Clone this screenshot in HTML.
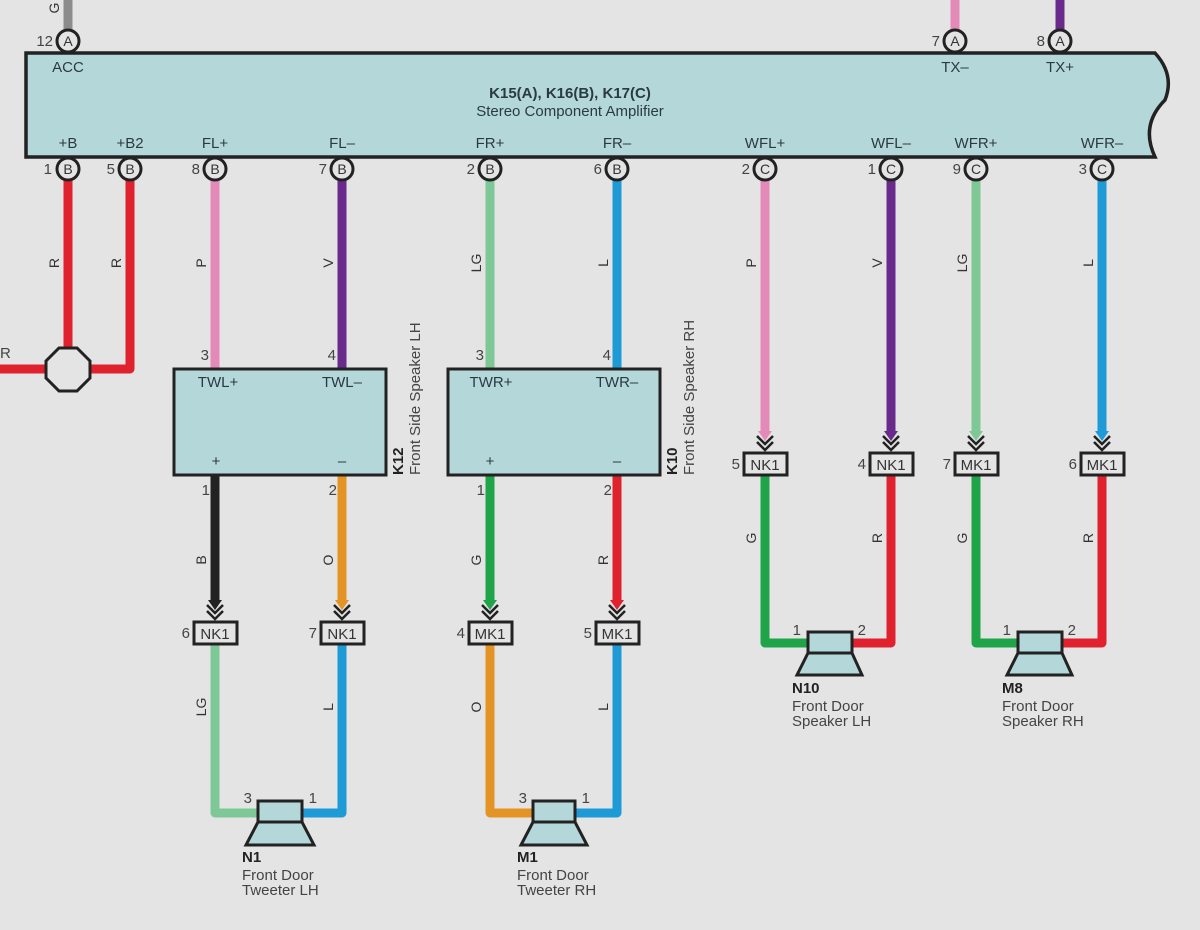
<!DOCTYPE html>
<html><head><meta charset="utf-8"><style>
html,body{margin:0;padding:0;background:#e4e4e4;}
svg{display:block;font-family:"Liberation Sans",sans-serif;}
</style></head><body>
<svg width="1200" height="930" viewBox="0 0 1200 930" xmlns="http://www.w3.org/2000/svg">
<rect width="1200" height="930" fill="#e4e4e4"/>
<g fill="none" stroke-width="9" stroke-linecap="butt" stroke-linejoin="round">
<line x1="68" y1="0" x2="68" y2="29" stroke="#8c8c8c"/>
<line x1="955" y1="0" x2="955" y2="29" stroke="#e48ab8"/>
<line x1="1060" y1="0" x2="1060" y2="29" stroke="#6a2a8c"/>
<line x1="68" y1="180" x2="68" y2="348" stroke="#e0222e"/>
<polyline points="130,180 130,369 90,369" stroke="#e0222e"/>
<line x1="0" y1="369" x2="46" y2="369" stroke="#e0222e"/>
<line x1="215" y1="180" x2="215" y2="369" stroke="#e48ab8"/>
<line x1="342" y1="180" x2="342" y2="369" stroke="#6a2a8c"/>
<line x1="490" y1="180" x2="490" y2="369" stroke="#7ec796"/>
<line x1="617" y1="180" x2="617" y2="369" stroke="#1e9ad6"/>
<line x1="215" y1="475" x2="215" y2="600" stroke="#222"/>
<line x1="342" y1="475" x2="342" y2="600" stroke="#e39424"/>
<line x1="490" y1="475" x2="490" y2="600" stroke="#1fa44a"/>
<line x1="617" y1="475" x2="617" y2="600" stroke="#e0222e"/>
<polyline points="215,645 215,813 258,813" stroke="#7ec796"/>
<polyline points="342,645 342,813 302,813" stroke="#1e9ad6"/>
<polyline points="490,645 490,813 533,813" stroke="#e39424"/>
<polyline points="617,645 617,813 575,813" stroke="#1e9ad6"/>
<line x1="765" y1="180" x2="765" y2="431" stroke="#e48ab8"/>
<line x1="891" y1="180" x2="891" y2="431" stroke="#6a2a8c"/>
<line x1="976" y1="180" x2="976" y2="431" stroke="#7ec796"/>
<line x1="1102" y1="180" x2="1102" y2="431" stroke="#1e9ad6"/>
<polyline points="765,476 765,643 808,643" stroke="#1fa44a"/>
<polyline points="891,476 891,643 852,643" stroke="#e0222e"/>
<polyline points="976,476 976,643 1018,643" stroke="#1fa44a"/>
<polyline points="1102,476 1102,643 1062,643" stroke="#e0222e"/>
</g>
<g stroke="#222" stroke-width="2.5" fill="none">
<polygon points="208,600 222,600 215,610" fill="#222" stroke="none"/>
<polygon points="335,600 349,600 342,610" fill="#e39424" stroke="none"/>
<polygon points="483,600 497,600 490,610" fill="#1fa44a" stroke="none"/>
<polygon points="610,600 624,600 617,610" fill="#e0222e" stroke="none"/>
<polyline points="207,605 215,613 223,605"/><polyline points="207,611 215,619 223,611"/>
<polyline points="334,605 342,613 350,605"/><polyline points="334,611 342,619 350,611"/>
<polyline points="482,605 490,613 498,605"/><polyline points="482,611 490,619 498,611"/>
<polyline points="609,605 617,613 625,605"/><polyline points="609,611 617,619 625,611"/>
<polygon points="758,431 772,431 765,441" fill="#e48ab8" stroke="none"/>
<polygon points="884,431 898,431 891,441" fill="#6a2a8c" stroke="none"/>
<polygon points="969,431 983,431 976,441" fill="#7ec796" stroke="none"/>
<polygon points="1095,431 1109,431 1102,441" fill="#1e9ad6" stroke="none"/>
<polyline points="757,436 765,444 773,436"/><polyline points="757,442 765,450 773,442"/>
<polyline points="883,436 891,444 899,436"/><polyline points="883,442 891,450 899,442"/>
<polyline points="968,436 976,444 984,436"/><polyline points="968,442 976,450 984,442"/>
<polyline points="1094,436 1102,444 1110,436"/><polyline points="1094,442 1102,450 1110,442"/>
</g>
<path d="M26,53 L1155,53 Q1175,75 1165,100 Q1140,125 1155,157 L26,157 Z" fill="#b4d8da" stroke="#222" stroke-width="3.5"/>
<polygon points="59,348 77,348 90,361 90,378 77,391 59,391 46,378 46,361" fill="#e4e4e4" stroke="#222" stroke-width="3"/>
<rect x="174" y="369" width="212" height="106" fill="#b4d8da" stroke="#222" stroke-width="3"/>
<rect x="448" y="369" width="212" height="106" fill="#b4d8da" stroke="#222" stroke-width="3"/>
<g fill="#e4e4e4" stroke="#222" stroke-width="3">
<circle cx="68" cy="41" r="11"/><circle cx="955" cy="41" r="11"/><circle cx="1060" cy="41" r="11"/>
<circle cx="68" cy="169" r="11"/><circle cx="130" cy="169" r="11"/><circle cx="215" cy="169" r="11"/><circle cx="342" cy="169" r="11"/>
<circle cx="490" cy="169" r="11"/><circle cx="617" cy="169" r="11"/><circle cx="765" cy="169" r="11"/><circle cx="891" cy="169" r="11"/>
<circle cx="976" cy="169" r="11"/><circle cx="1102" cy="169" r="11"/>
</g>
<g font-size="14" fill="#333" text-anchor="middle">
<text x="68" y="46">A</text><text x="955" y="46">A</text><text x="1060" y="46">A</text>
<text x="68" y="174">B</text><text x="130" y="174">B</text><text x="215" y="174">B</text><text x="342" y="174">B</text>
<text x="490" y="174">B</text><text x="617" y="174">B</text><text x="765" y="174">C</text><text x="891" y="174">C</text>
<text x="976" y="174">C</text><text x="1102" y="174">C</text>
</g>
<g fill="#e4e4e4" stroke="#222" stroke-width="3">
<rect x="194" y="622" width="43" height="22"/><rect x="321" y="622" width="43" height="22"/>
<rect x="469" y="622" width="43" height="22"/><rect x="596" y="622" width="43" height="22"/>
<rect x="744" y="453" width="43" height="22"/><rect x="870" y="453" width="43" height="22"/>
<rect x="955" y="453" width="43" height="22"/><rect x="1081" y="453" width="43" height="22"/>
</g>
<g font-size="15" fill="#333" text-anchor="middle">
<text x="215" y="639">NK1</text><text x="342" y="639">NK1</text><text x="490" y="639">MK1</text><text x="617" y="639">MK1</text>
<text x="765" y="470">NK1</text><text x="891" y="470">NK1</text><text x="976" y="470">MK1</text><text x="1102" y="470">MK1</text>
</g>
<g fill="#b4d8da" stroke="#222" stroke-width="3">
<rect x="258" y="801" width="44" height="21"/><polygon points="258,822 302,822 314,845 246,845"/>
<rect x="533" y="801" width="42" height="21"/><polygon points="533,822 575,822 587,845 521,845"/>
<rect x="808" y="632" width="44" height="21"/><polygon points="808,653 852,653 862,675 797,675"/>
<rect x="1018" y="632" width="44" height="21"/><polygon points="1018,653 1062,653 1072,675 1007,675"/>
</g>
<g font-size="15" fill="#444" text-anchor="end">
<text x="53" y="46">12</text><text x="940" y="46">7</text><text x="1045" y="46">8</text>
<text x="52" y="174">1</text><text x="115" y="174">5</text><text x="200" y="174">8</text><text x="327" y="174">7</text>
<text x="475" y="174">2</text><text x="602" y="174">6</text><text x="750" y="174">2</text><text x="876" y="174">1</text>
<text x="961" y="174">9</text><text x="1087" y="174">3</text>
<text x="209" y="360">3</text><text x="336" y="360">4</text><text x="484" y="360">3</text><text x="611" y="360">4</text>
<text x="210" y="495">1</text><text x="337" y="495">2</text><text x="485" y="495">1</text><text x="612" y="495">2</text>
<text x="190" y="638">6</text><text x="317" y="638">7</text><text x="465" y="638">4</text><text x="592" y="638">5</text>
<text x="740" y="469">5</text><text x="866" y="469">4</text><text x="951" y="469">7</text><text x="1077" y="469">6</text>
<text x="252" y="803">3</text><text x="317" y="803">1</text><text x="527" y="803">3</text><text x="590" y="803">1</text>
<text x="801" y="635">1</text><text x="866" y="635">2</text><text x="1011" y="635">1</text><text x="1076" y="635">2</text>
</g>
<g font-size="15" fill="#2a3a40" text-anchor="middle">
<text x="68" y="72">ACC</text><text x="955" y="72">TX–</text><text x="1060" y="72">TX+</text>
<text x="68" y="148">+B</text><text x="130" y="148">+B2</text><text x="215" y="148">FL+</text><text x="342" y="148">FL–</text>
<text x="490" y="148">FR+</text><text x="617" y="148">FR–</text><text x="765" y="148">WFL+</text><text x="891" y="148">WFL–</text>
<text x="976" y="148">WFR+</text><text x="1102" y="148">WFR–</text>
<text x="218" y="387">TWL+</text><text x="342" y="387">TWL–</text><text x="491" y="387">TWR+</text><text x="617" y="387">TWR–</text>
<text x="216" y="466">+</text><text x="342" y="466">–</text><text x="490" y="466">+</text><text x="617" y="466">–</text>
</g>
<text x="570" y="98" font-size="15" font-weight="bold" fill="#2a3a40" text-anchor="middle">K15(A), K16(B), K17(C)</text>
<text x="570" y="116" font-size="15" fill="#2a3a40" text-anchor="middle">Stereo Component Amplifier</text>
<text transform="translate(403,475) rotate(-90)" font-size="15" font-weight="bold" fill="#222">K12</text>
<text transform="translate(420,475) rotate(-90)" font-size="15" fill="#444">Front Side Speaker LH</text>
<text transform="translate(677,475) rotate(-90)" font-size="15" font-weight="bold" fill="#222">K10</text>
<text transform="translate(694,475) rotate(-90)" font-size="15" fill="#444">Front Side Speaker RH</text>
<g font-size="15" fill="#444">
<text x="242" y="862" font-weight="bold" fill="#222">N1</text><text x="242" y="880">Front Door</text><text x="242" y="895">Tweeter LH</text>
<text x="517" y="862" font-weight="bold" fill="#222">M1</text><text x="517" y="880">Front Door</text><text x="517" y="895">Tweeter RH</text>
<text x="792" y="693" font-weight="bold" fill="#222">N10</text><text x="792" y="711">Front Door</text><text x="792" y="726">Speaker LH</text>
<text x="1002" y="693" font-weight="bold" fill="#222">M8</text><text x="1002" y="711">Front Door</text><text x="1002" y="726">Speaker RH</text>
<text x="0" y="358">R</text>
</g>
<g font-size="14" fill="#333" text-anchor="middle">
<text transform="translate(59,263) rotate(-90)">R</text>
<text transform="translate(121,263) rotate(-90)">R</text>
<text transform="translate(206,263) rotate(-90)">P</text>
<text transform="translate(333,263) rotate(-90)">V</text>
<text transform="translate(481,263) rotate(-90)">LG</text>
<text transform="translate(608,263) rotate(-90)">L</text>
<text transform="translate(756,263) rotate(-90)">P</text>
<text transform="translate(882,263) rotate(-90)">V</text>
<text transform="translate(967,263) rotate(-90)">LG</text>
<text transform="translate(1093,263) rotate(-90)">L</text>
<text transform="translate(206,560) rotate(-90)">B</text>
<text transform="translate(333,560) rotate(-90)">O</text>
<text transform="translate(481,560) rotate(-90)">G</text>
<text transform="translate(608,560) rotate(-90)">R</text>
<text transform="translate(206,707) rotate(-90)">LG</text>
<text transform="translate(333,707) rotate(-90)">L</text>
<text transform="translate(481,707) rotate(-90)">O</text>
<text transform="translate(608,707) rotate(-90)">L</text>
<text transform="translate(756,538) rotate(-90)">G</text>
<text transform="translate(882,538) rotate(-90)">R</text>
<text transform="translate(967,538) rotate(-90)">G</text>
<text transform="translate(1093,538) rotate(-90)">R</text>
<text transform="translate(59,8) rotate(-90)">G</text>
</g>
</svg>
</body></html>
